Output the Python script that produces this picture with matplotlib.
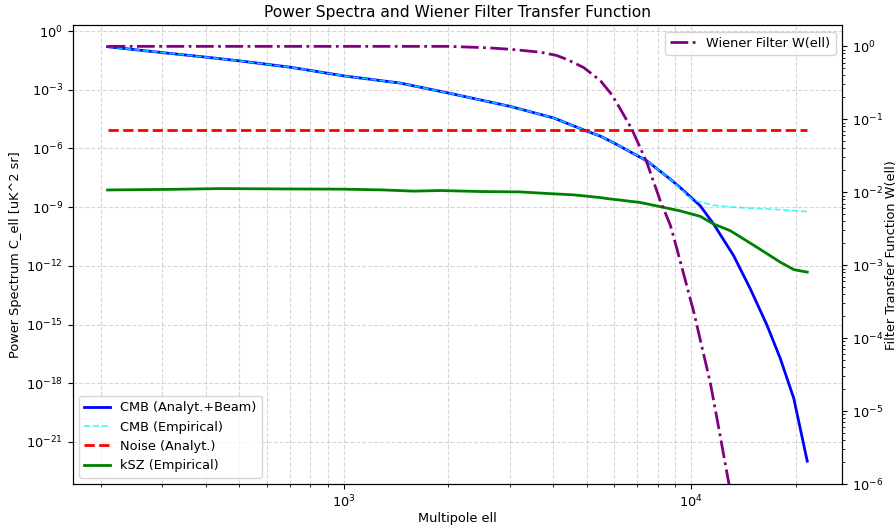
import numpy as np
import matplotlib.pyplot as plt
from matplotlib.ticker import NullLocator

plt.rcParams['font.size'] = 9.3

# values (log10 of the plotted quantity)
ell_cmb = [209, 300, 405, 505, 703, 1000, 1455, 2005, 3013, 4016, 5012, 5473, 5977,
           7458, 8700, 9290, 10612, 11590, 13230, 14780, 16510, 18030, 19710, 21560]
log_cmb = [-0.80, -1.10, -1.34, -1.53, -1.85, -2.29, -2.66, -3.17, -3.85, -4.44, -5.12, -5.37, -5.71,
           -6.64, -7.57, -8.0, -8.93, -9.86, -11.47, -13.17, -15.03, -16.73, -18.76, -21.98]

ell_emp = [209, 300, 405, 505, 703, 1000, 1455, 2005, 3013, 4016, 5012, 5473, 5977,
           7458, 8700, 9400, 10150, 11590, 13500, 15500, 17700, 20000, 21560]
log_emp = [-0.80, -1.10, -1.34, -1.53, -1.85, -2.29, -2.66, -3.17, -3.85, -4.44, -5.12, -5.37, -5.71,
           -6.64, -7.57, -8.12, -8.65, -8.90, -9.01, -9.07, -9.12, -9.19, -9.22]

ell_noise = [209, 21560]
log_noise = [-5.07, -5.07]

ell_ksz = [209, 317, 443, 700, 1000, 1303, 1586, 1897, 2472, 3221, 3843, 4586, 5473, 5723,
           7130, 8320, 9290, 10612, 11590, 12940, 15450, 18030, 19710, 21560]
log_ksz = [-8.12, -8.09, -8.05, -8.07, -8.08, -8.12, -8.18, -8.15, -8.20, -8.22, -8.30, -8.37, -8.51, -8.56,
           -8.76, -9.01, -9.19, -9.47, -9.86, -10.2, -11.05, -11.81, -12.19, -12.32]

ell_w = [209, 500, 1000, 2005, 2600, 3013, 3678, 4100, 4390, 4900, 5473, 5900, 6250, 6751, 7458,
         8145, 8700, 9096, 10150, 11340, 12120, 12810, 13500]
log_w = [0.0, 0.0, 0.0, 0.0, -0.02, -0.04, -0.08, -0.125, -0.18, -0.29, -0.47, -0.66, -0.86, -1.14, -1.6,
         -2.12, -2.45, -2.78, -3.63, -4.61, -5.35, -5.98, -6.5]

fig, ax = plt.subplots(figsize=(8.96, 5.25), dpi=100)
ax.plot(ell_cmb, 10**np.array(log_cmb), color='blue', lw=2, label='CMB (Analyt.+Beam)')
ax.plot(ell_emp, 10**np.array(log_emp), color='cyan', lw=1.2, ls='--', alpha=0.8, label='CMB (Empirical)')
ax.plot(ell_noise, 10**np.array(log_noise), color='red', lw=2, ls='--', label='Noise (Analyt.)')
ax.plot(ell_ksz, 10**np.array(log_ksz), color='green', lw=2, label='kSZ (Empirical)')
ax.set_xscale('log')
ax.set_yscale('log')
ax.set_ylim(10**-23.15, 10**0.3)
ax.yaxis.set_minor_locator(NullLocator())
ax.set_xlabel('Multipole ell', labelpad=1)
ax.set_ylabel('Power Spectrum C_ell [uK^2 sr]', labelpad=3)
ax.grid(True, which='both', ls='--', alpha=0.5)
ax.legend(loc='lower left')

ax2 = ax.twinx()
ax2.plot(ell_w, 10**np.array(log_w), color='purple', lw=2, ls='-.', label='Wiener Filter W(ell)')
ax2.set_yscale('log')
ax2.set_ylim(1e-6, 10**0.29)
ax2.set_ylabel('Filter Transfer Function W(ell)', labelpad=1)
ax2.legend(loc='upper right')

ax.set_title('Power Spectra and Wiener Filter Transfer Function')
fig.subplots_adjust(left=0.081, right=0.94, top=0.952, bottom=0.078)
fig.savefig('out.png')
